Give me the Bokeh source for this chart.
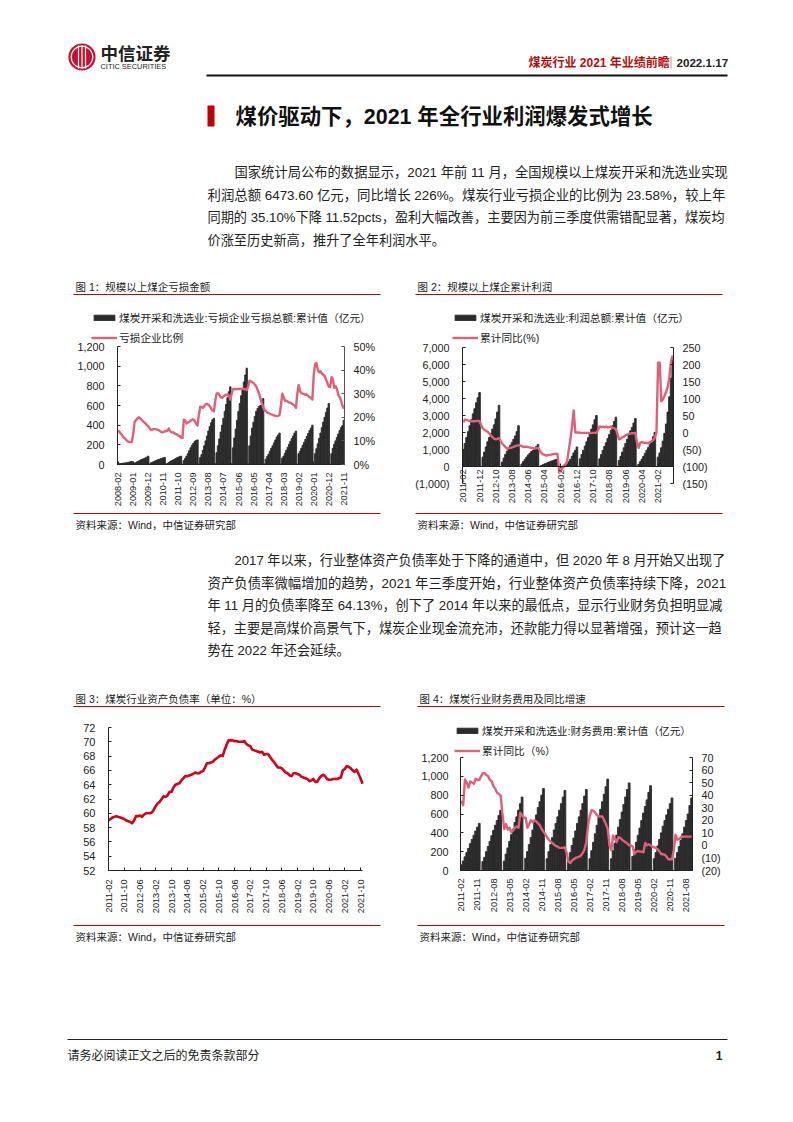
from bokeh.plotting import figure
from bokeh.layouts import column, row
from bokeh.models import Range1d, LinearAxis, FixedTicker, Legend, LegendItem
from bokeh.core.properties import value
from bokeh.embed import file_html
from bokeh.resources import INLINE
import math

FONT = "Liberation Sans, Noto Sans CJK SC"
INK = "#222222"
RED = "#C00000"
BAR = "#2B2B2B"
PINK = "#E0607A"

# ---------- data ----------
months1_labels = ["2008-02","2009-01","2009-12","2010-11","2011-10","2012-09","2013-08","2014-07","2015-06","2016-05","2017-04","2018-03","2019-02","2020-01","2020-12","2021-11"]
loss_amount = [
 6,8,10,12,14,16,18,20,24,28,32,
 5,15,20,28,35,42,50,55,60,68,75,85,
 3,18,22,30,36,42,48,52,58,62,68,72,
 2,12,20,30,38,45,52,60,68,75,80,85,
 3,40,60,85,110,140,170,195,215,235,245,250,
 5,70,100,145,190,240,290,340,385,425,455,470,
 8,120,190,260,330,400,470,540,610,680,740,790,
 8,170,270,360,450,540,620,700,770,840,910,980,
 8,190,290,370,430,490,540,570,590,600,600,670,
 6,55,80,105,135,165,190,220,250,280,300,320,
 5,65,85,115,145,175,205,235,265,290,320,340,
 5,110,135,165,195,225,255,285,315,345,370,400,
 5,110,160,210,265,320,375,430,480,530,575,620,
 5,110,165,205,240,275,310,345,375,395,450]
loss_ratio = [
 14.5,13.8,13,12.3,11.5,11,10.3,9.8,9.6,9.5,9.6,
 13,18,18.8,19.5,20,19.6,19,18.4,17.9,17.3,16.7,16.2,
 15.3,14.6,14.8,15,15,14.9,14.7,14.4,14,13.6,13.7,14,
 14.2,14.3,15.2,14.2,13.6,13.6,13.3,13,12.8,12.2,12,11.4,
 11.2,19,18.6,17.4,17.8,18,18.6,19,19.1,18.3,17.3,16.5,
 21,24.5,24.3,24,24.7,25.5,25.7,25.3,24.7,23.6,23,22.5,
 27,30,30.2,29.5,28.5,28.2,28.8,29.3,29.6,29.5,29.2,27.5,
 30,32,32,31.8,32,32,32,32,32,31.8,32,31.5,
 33,35.5,35.2,34.9,34.5,33.8,33,31.5,30,28,26,24.3,
 23,22.7,22,21.8,21.5,21.2,21,20.8,20.6,20.5,20.6,21,
 25,30,28.5,27,27,26.7,26.2,26.2,25.8,25.3,25,24,
 30,33.6,31,30.3,30,29.8,29.5,29.7,29,28.5,28.2,27.5,
 38,42.5,43,40,39,39.5,38.5,38,37.5,36,34.5,33,
 32.8,37,36,32.5,33.2,32,29.5,28.5,27,25,23.58]

months2_labels = ["2011-02","2011-12","2012-10","2013-08","2014-06","2015-04","2016-02","2016-12","2017-10","2018-08","2019-06","2020-04","2021-02"]
profit_total = [
 1000,1350,1700,2050,2400,2750,3100,3400,3750,4050,4350,
 0,550,850,1150,1450,1700,1950,2200,2450,2800,3200,3600,
 0,260,500,720,900,1050,1250,1400,1600,1800,2050,2400,
 0,150,300,420,560,680,780,880,950,1050,1170,1300,
 0,60,100,140,180,230,270,310,340,380,410,440,
 0,-80,-60,-30,50,150,280,420,600,800,950,1150,
 0,450,700,950,1200,1450,1700,1950,2200,2450,2750,3000,
 0,450,700,950,1180,1400,1650,1880,2130,2400,2650,2900,
 0,350,600,850,1100,1350,1600,1850,2100,2300,2560,2830,
 0,130,280,430,600,780,960,1120,1300,1500,1750,2000,
 0,550,800,1100,1500,1950,2500,3200,4100,5200,6473.6]
profit_yoy = [
 30,38,37,35,34,33,33,33,34,34,33,
 22,12,8,5,2,-3,-8,-14,-18,-20,-18,-17,
 -25,-33,-38,-43,-47,-46,-45,-44,-42,-40,-39,-37,
 -38,-40,-42,-42,-42,-43,-44,-45,-46,-47,-46,-45,
 -52,-60,-64,-66,-68,-67,-66,-65,-64,-63,-62,-63,
 -110,-115,-105,-97,-93,-85,-50,-20,18,65,0,0,
 0,-1,-1,-1,-1,-1,-1,-2,-1,-1,-1,-1,
 8,18,16,17,15,17,15,16,17,14,12,10,
 -5,-20,-18,-14,-12,-8,-6,-4,-3,-2,-2,-1,
 -30,-45,-30,-28,-30,-30,-32,-31,-28,-26,-22,-15,
 0,205,205,92,98,108,120,135,165,210,226]

months3_labels = ["2011-02","2011-10","2012-06","2013-02","2013-10","2014-06","2015-02","2015-10","2016-06","2017-02","2017-10","2018-06","2019-02","2019-10","2020-06","2021-02","2021-10"]
debt_ratio = [
 59,59.2,59.4,59.5,59.6,59.5,59.4,59.3,59.2,59,58.9,
 58.8,58.6,59,59.6,59.6,59.7,59.5,59.8,60,60,60,60.1,
 60.5,61,61.4,61.6,62,62.4,62.3,62.5,63,63,63.6,64,
 64.1,64.2,64.6,64.9,65.2,65.2,65.3,65.4,65.5,65.7,65.6,65.6,
 65.8,65.9,66.4,67,67,67.1,67.2,67.5,67.7,67.9,68.1,68,
 68.9,69.6,70.2,70.2,70.2,70.1,70.1,70,70,70,70.1,69.7,
 69.5,69.4,68.9,68.8,68.7,68.6,68.5,68.6,68.2,68.3,68.3,67.9,
 67.5,67.2,66.8,66.4,66.4,66.3,66,65.7,65.6,65.3,65.2,65.6,
 65.6,65.5,65.4,65.1,65,64.9,64.8,64.5,64.6,64.8,64.4,64.4,
 64.9,65.2,65.4,65.2,64.8,64.7,64.7,64.8,64.8,64.8,64.9,65,
 66,66.2,66.6,66.5,66.3,66,65.8,66.1,65.5,64.9,64.13]

months4_labels = ["2011-02","2011-11","2012-08","2013-05","2014-02","2014-11","2015-08","2016-05","2017-02","2017-11","2018-08","2019-05","2020-02","2020-11","2021-08"]
finance_cost = [
 60,100,145,190,235,285,330,375,420,460,500,
 0,95,140,200,255,310,370,425,480,530,585,640,
 0,100,175,240,310,380,440,510,570,640,710,780,
 0,130,200,275,350,430,510,590,670,730,800,870,
 0,125,200,275,350,430,500,570,640,710,780,850,
 0,110,190,265,345,420,500,570,640,710,790,860,
 0,125,210,300,390,480,570,650,730,810,890,970,
 0,125,210,290,375,460,540,620,700,780,860,930,
 0,150,220,300,375,450,530,610,680,750,830,900,
 0,125,190,260,330,400,470,530,590,650,710,770,
 0,130,190,255,320,390,460,530,600,690,770]
finance_yoy = [
 35.5,32,52.5,50,46,51,50,49,53,52,52,
 55,57.5,57.5,56,55,52,51,47,45,42,41,39.5,
 25,13,17,12.5,14,10.5,12,14,15,14,26,24,
 22,22,14,17,20,18.5,20,19,17.5,16,13,11,
 9,6.5,4.5,3,2,0.5,-0.5,-1,-2,-2,-2,-1.5,
 -6,-13,-14,-12,-11,-10,-9.5,-9,-8,-6,-3,2.5,
 16,24,28,27.5,26,24,23,23,23,20,17,13,
 0,-4,8,5,2.5,6.5,6,4.5,3.5,2.5,1.5,0,
 0,-1,-7,-5,-4.5,-5,-5,-5.5,2,0,1,0,
 -1,-1.5,-2,-3,-5,-7,-7,-7.5,-9,-11,-11,-11,
 -4,8.5,4.5,5,6.5,7,7,7,7,7,7]

left_ticks_1 = [0,200,400,600,800,1000,1200]
left_labels_1 = ["0","200","400","600","800","1,000","1,200"]
right_ticks_1 = [0,10,20,30,40,50]
right_labels_1 = ["0%","10%","20%","30%","40%","50%"]
left_ticks_2 = [-1000,0,1000,2000,3000,4000,5000,6000,7000]
left_labels_2 = ["(1,000)","0","1,000","2,000","3,000","4,000","5,000","6,000","7,000"]
right_ticks_2 = [-150,-100,-50,0,50,100,150,200,250]
right_labels_2 = ["(150)","(100)","(50)","0","50","100","150","200","250"]
left_ticks_3 = [52,54,56,58,60,62,64,66,68,70,72]
left_labels_3 = [str(v) for v in left_ticks_3]
right_ticks_4 = [-20,-10,0,10,20,30,40,50,60,70]
right_labels_4 = ["(20)","(10)","0","10","20","30","40","50","60","70"]

para1 = ["国家统计局公布的数据显示，2021 年前 11 月，全国规模以上煤炭开采和洗选业实现",
         "利润总额 6473.60 亿元，同比增长 226%。煤炭行业亏损企业的比例为 23.58%，较上年",
         "同期的 35.10%下降 11.52pcts，盈利大幅改善，主要因为前三季度供需错配显著，煤炭均",
         "价涨至历史新高，推升了全年利润水平。"]
para1_sizes = [13.3, 13.4, 13.2, 13.2]
para2 = ["2017 年以来，行业整体资产负债率处于下降的通道中，但 2020 年 8 月开始又出现了",
         "资产负债率微幅增加的趋势，2021 年三季度开始，行业整体资产负债率持续下降，2021",
         "年 11 月的负债率降至 64.13%，创下了 2014 年以来的最低点，显示行业财务负担明显减",
         "轻，主要是高煤价高景气下，煤炭企业现金流充沛，还款能力得以显著增强，预计这一趋",
         "势在 2022 年还会延续。"]
para2_sizes = [13.13, 13.4, 13.2, 13.2, 13.2]
SOURCE = "资料来源：Wind，中信证券研究部"

# ---------- page strips: data coordinates equal page pixels ----------
def strip(top, h):
    p = figure(width=793, height=h, x_range=Range1d(0, 793), y_range=Range1d(top + h, top),
               x_axis_type=None, y_axis_type=None, toolbar_location=None, output_backend="svg",
               min_border=0, min_border_left=0, min_border_right=0, min_border_top=0, min_border_bottom=0)
    p.outline_line_color = None
    p.grid.visible = False
    return p

def txt(p, x, y, s, size=10.5, color=INK, bold=False, align="left"):
    p.text([x], [y], text=[s], text_font=value(FONT), text_font_size=f"{size}px", text_color=color,
           text_baseline="middle", text_align=align, text_font_style="bold" if bold else "normal")

def rule(p, x0, x1, y, color=RED, w=1.2):
    p.segment([x0], [y], [x1], [y], line_color=color, line_width=w)

# top strip
A = strip(0, 298)
A.circle([81.5], [56.5], radius=13.6, fill_color="#C8102E", line_color=None)
A.circle([81.5], [56.5], radius=10.8, fill_color=None, line_color="white", line_width=1.2)
A.segment([78, 81.5, 85], [45, 45, 45], [78, 81.5, 85], [68, 68, 68], line_color="white", line_width=1.2)
txt(A, 100, 53, "中信证券", size=17.5, color="#222222", bold=True)
txt(A, 100, 66, "CITIC SECURITIES", size=7.4, color="#222222")
txt(A, 528, 62, "煤炭行业 2021 年业绩前瞻", size=12, color="#B01010", bold=True)
A.segment([670.5], [56], [670.5], [68], line_color="#888888", line_width=0.8)
txt(A, 676, 62, "2022.1.17", size=11.6, color="#222222", bold=True)
rule(A, 206, 727, 75, color="#111111", w=2)
A.quad(left=[207], right=[214], top=[105], bottom=[126], fill_color="#C00000", line_color=None)
txt(A, 235, 116, "煤价驱动下，2021 年全行业利润爆发式增长", size=21.4, color="#111111", bold=True)
for i, line in enumerate(para1):
    txt(A, 234 if i == 0 else 207, 172 + i * 22.7, line, size=para1_sizes[i])
txt(A, 75, 286, "图 1：规模以上煤企亏损金额")
rule(A, 73, 380, 294)
txt(A, 417, 286, "图 2：规模以上煤企累计利润")
rule(A, 415, 722, 294)

# middle strip
B = strip(508, 200)
rule(B, 73, 380, 513)
rule(B, 415, 722, 513)
txt(B, 75, 524, SOURCE)
txt(B, 417, 524, SOURCE)
for i, line in enumerate(para2):
    txt(B, 234 if i == 0 else 207, 560 + i * 22.5, line, size=para2_sizes[i])
txt(B, 75, 698, "图 3：煤炭行业资产负债率（单位：%）")
rule(B, 73, 380, 706)
txt(B, 419, 698, "图 4：煤炭行业财务费用及同比增速")
rule(B, 417, 724, 706)

# bottom strip
C = strip(918, 196)
rule(C, 73, 380, 925)
rule(C, 417, 724, 925)
txt(C, 75, 936, SOURCE)
txt(C, 419, 936, SOURCE)
rule(C, 67, 727, 1039, color="#222222", w=1)
txt(C, 67, 1055, "请务必阅读正文之后的免责条款部分", size=12)
txt(C, 722, 1055, "1", size=12, bold=True, align="right")

# ---------- charts ----------
def style_axis(ax, ticks, labels, size="10.8px", color="#222222", standoff=4):
    ax.ticker = FixedTicker(ticks=list(ticks))
    ax.major_label_overrides = {t: l for t, l in zip(ticks, labels)}
    ax.major_label_text_font = FONT
    ax.major_label_text_font_size = size
    ax.major_label_text_color = "#222222"
    ax.axis_line_color = color
    ax.major_tick_line_color = color
    ax.major_tick_in = 3
    ax.major_tick_out = 0
    ax.minor_tick_line_color = None
    ax.major_label_standoff = standoff

def outer(r, size, before, after):
    # extend a value range so that it covers the margins round the plot area, which hold labels and legend
    k = (r[1] - r[0]) / size
    return (r[0] - before * k, r[1] + after * k)

class Chart:
    """A figure whose frame is the whole canvas, so the legend outside the axes stays visible."""
    def __init__(self, w, h, left, fw, top, fh, xr, yr):
        self.xr, self.yr, self.fh, self.top = xr, yr, fh, top
        self.bottom = h - top - fh
        self.p = figure(width=w, height=h, toolbar_location=None, output_backend="svg",
                        x_range=Range1d(*outer(xr, fw, left, w - left - fw)),
                        y_range=Range1d(*outer(yr, fh, self.bottom, top)),
                        min_border=0, min_border_left=0, min_border_right=0, min_border_top=0, min_border_bottom=0)
        p = self.p
        p.outline_line_color = None
        p.grid.visible = False
        p.yaxis[0].fixed_location = xr[0]
        p.yaxis[0].bounds = yr

    def xaxis(self, step, labels, at=None, standoff=8):
        ax = self.p.xaxis[0]
        style_axis(ax, [i * step for i in range(len(labels))], labels, size="9.2px", standoff=standoff)
        ax.major_label_orientation = math.pi / 2
        ax.fixed_location = self.yr[0] if at is None else at
        ax.bounds = self.xr

    def yleft(self, ticks, labels, size="10.8px", standoff=13):
        style_axis(self.p.yaxis[0], ticks, labels, size=size, standoff=standoff)

    def yright(self, rng, ticks, labels, color="#222222", standoff=9):
        self.p.extra_y_ranges = {"r": Range1d(*outer(rng, self.fh, self.bottom, self.top))}
        ax = LinearAxis(y_range_name="r", fixed_location=self.xr[1], bounds=rng)
        style_axis(ax, ticks, labels, color=color, standoff=standoff)
        self.p.add_layout(ax, "right")

    def bars_line(self, bars, line, lw=2.4):
        n = len(bars)
        r1 = self.p.vbar(x=list(range(n)), top=bars, bottom=0, width=1, fill_color=BAR, line_color=BAR, line_width=0.9)
        r2 = self.p.line(list(range(n)), line, line_color=PINK, line_width=lw, y_range_name="r", line_join="round")
        return r1, r2

    def legend(self, r1, t1, r2, t2, x, y):
        lg = Legend(items=[LegendItem(label=t1, renderers=[r1]), LegendItem(label=t2, renderers=[r2])],
                    location=(x, y), orientation="vertical", glyph_width=26, glyph_height=7,
                    label_standoff=2, spacing=5, padding=0, margin=0, border_line_color=None,
                    background_fill_alpha=0, label_text_font=FONT, label_text_font_size="10.7px",
                    label_text_color="#222222", label_height=12)
        self.p.add_layout(lg, "center")

# chart 1
n1 = len(loss_amount)
c1 = Chart(400, 210, 117, 227, 48, 118, (-0.5, n1 - 0.5), (0, 1200))
c1.yright((0, 50), right_ticks_1, right_labels_1, color="#555555")
c1.yleft(left_ticks_1, left_labels_1)
c1.xaxis(11, months1_labels)
r1, r2 = c1.bars_line(loss_amount, loss_ratio)
c1.legend(r1, "煤炭开采和洗选业:亏损企业亏损总额:累计值（亿元）", r2, "亏损企业比例", 91, 163)

# chart 2: the axis of months runs along zero
n2 = len(profit_total)
c2 = Chart(393, 210, 62, 211, 49, 136, (-0.5, n2 - 0.5), (-1000, 7000))
c2.yright((-150, 250), right_ticks_2, right_labels_2)
c2.yleft(left_ticks_2, left_labels_2)
c2.xaxis(10, months2_labels, at=0, standoff=3)
r1, r2 = c2.bars_line(profit_total, profit_yoy)
c2.legend(r1, "煤炭开采和洗选业:利润总额:累计值（亿元）", r2, "累计同比(%)", 52, 163)

# chart 3
n3 = len(debt_ratio)
c3 = Chart(400, 210, 108, 254, 19, 143, (0, n3 - 1), (52, 72))
c3.yleft(left_ticks_3, left_labels_3, size="11px")
c3.xaxis(8, months3_labels, standoff=9)
c3.p.line(list(range(n3)), debt_ratio, line_color="#D4001A", line_width=2.6, line_join="round")

# chart 4
n4 = len(finance_cost)
c4 = Chart(393, 210, 60, 232, 49, 113, (-0.5, n4 - 0.5), (0, 1200))
c4.yright((-20, 70), right_ticks_4, right_labels_4)
c4.yleft(left_ticks_1, left_labels_1, standoff=12)
c4.xaxis(9, months4_labels)
r1, r2 = c4.bars_line(finance_cost, finance_yoy)
c4.legend(r1, "煤炭开采和洗选业:财务费用:累计值（亿元）", r2, "累计同比（%）", 54, 160)

page = column(A, row(c1.p, c2.p, spacing=0), B, row(c3.p, c4.p, spacing=0), C, spacing=0)
open("out.html", "w").write(file_html(page, INLINE))
